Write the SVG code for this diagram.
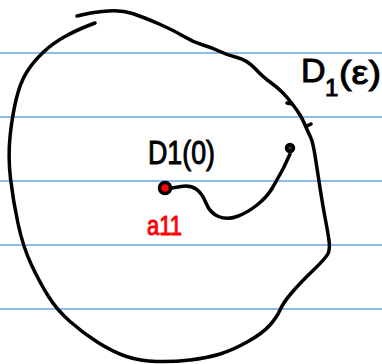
<svg xmlns="http://www.w3.org/2000/svg" width="382" height="364" viewBox="0 0 382 364">
<style>
.rule{stroke:#6aa3e6;stroke-width:1.5}
.ink{fill:none;stroke:#000;stroke-width:3.5;stroke-linecap:round;stroke-linejoin:round}
.t{font-family:"Liberation Sans",Arial,sans-serif;fill:#000;stroke:#000;stroke-width:1}
.r{fill:#ff0000;stroke:#ff0000}
</style>
<rect width="382" height="364" fill="#fff"/>
<g id="rules">
<line class="rule" x1="0" y1="53" x2="382" y2="53"/>
<line class="rule" x1="0" y1="117" x2="382" y2="117"/>
<line class="rule" x1="0" y1="181" x2="382" y2="181"/>
<line class="rule" x1="0" y1="245" x2="382" y2="245"/>
<line class="rule" x1="0" y1="309" x2="382" y2="309"/>
</g>
<g id="region">
<path class="ink" d="M77,16 L86,14 Q95,12 108.5,11 Q122,10 132.5,13.5 Q143,17 158,23.5 Q173,30 183,36 Q193,42 203,45 Q213,48 220,51.5 Q227,55 237,57.5 Q247,60 255,68.5 Q263,77 270,82 Q277,87 282,92 Q287,97 292,103.5 Q297,110 300,115 Q303,120 305.5,126 Q308,132 310.5,137 Q313,142 315.5,158.5 Q318,175 320.5,191 Q323,207 325.5,220 Q328,233 329,240.5 Q330,248 328.5,252.5 Q327,257 313.5,270 Q300,283 291.5,293 Q283,303 280,310 Q277,317 270,325 Q263,333 248,341.5 Q233,350 220,354 Q207,358 190,360 Q173,362 156.5,361.5 Q140,361 126.5,356.5 Q113,352 98,342.5 Q83,333 70,321.5 Q57,310 48.5,296.5 Q40,283 31.5,265 Q23,247 18,223.5 Q13,200 10.5,178.5 Q8,157 10,137 Q12,117 16,100 Q20,83 26.5,72.5 Q33,62 43,52.5 Q53,43 65,36.5 Q77,30 86,26.5 L95,23"/>
<path class="ink" d="M287,103 L292,104"/>
<path class="ink" d="M307,126 L311,124"/>
</g>
<g id="path">
<path class="ink" d="M172,188 L181,186.5 Q190,185 196,189 Q202,193 206,203 Q210,213 218.5,216.5 Q227,220 237,216.5 Q247,213 257,205 Q267,197 272,188.5 Q277,180 283.5,168 L290,154"/>
</g>
<g id="center">
<circle cx="165" cy="188" r="5.5" fill="#ff0000" stroke="#000" stroke-width="3.5"/>
<text class="t r" x="147" y="235" font-size="28" textLength="35" lengthAdjust="spacingAndGlyphs">a11</text>
</g>
<g id="endpoint">
<circle cx="290" cy="148" r="3.5" fill="#333" stroke="#000" stroke-width="3.5"/>
</g>
<g id="labels">
<text class="t" x="148" y="164" font-size="33" textLength="67" lengthAdjust="spacingAndGlyphs">D1(0)</text>
<text class="t" x="301" y="82" font-size="34">D</text>
<text class="t" x="325" y="96" font-size="24">1</text>
<text class="t" x="339" y="84" font-size="34" textLength="42" lengthAdjust="spacingAndGlyphs">(ε)</text>
</g>
</svg>
